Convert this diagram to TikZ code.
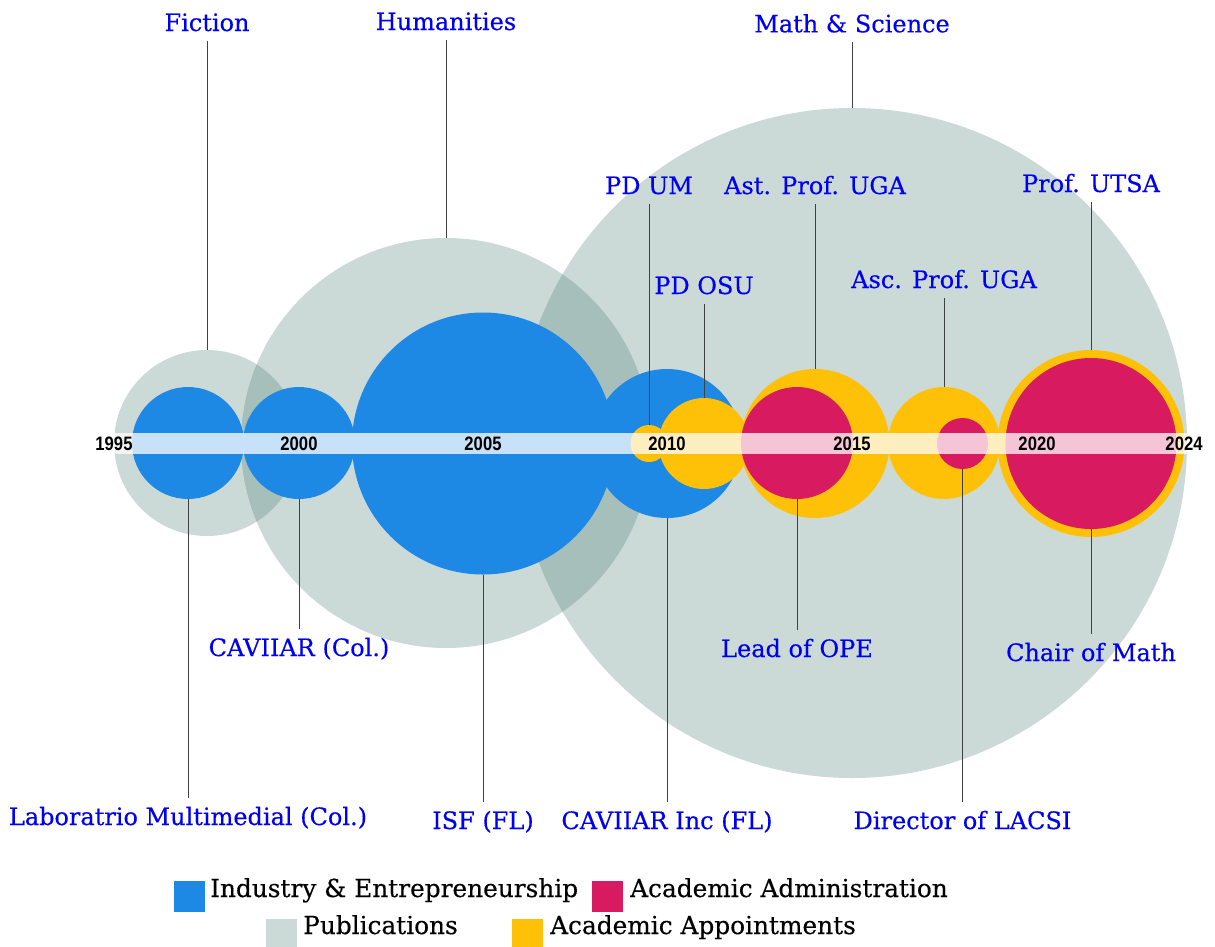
\documentclass[tikz,border=0pt]{standalone}
\usepackage{fontspec}
\setmainfont{DejaVu Serif}[FakeBold=0.35]
\newfontfamily\yearfont{Liberation Sans}
\definecolor{blueC}{HTML}{1E88E5}
\definecolor{redC}{HTML}{D81B60}
\definecolor{yellowC}{HTML}{FFC107}
\definecolor{greyC}{HTML}{CCDAD7}
\definecolor{greyO}{HTML}{A6BFBA}
\definecolor{labelC}{RGB}{0,0,240}
\newcommand{\yrtxt}[1]{\scalebox{0.9}[1.05]{#1}}
\begin{document}
\begin{tikzpicture}[x=1pt,y=-1pt,
  pub/.style={circle,inner sep=0pt,fill=greyC},
  ind/.style={circle,inner sep=0pt,fill=blueC},
  app/.style={circle,inner sep=0pt,fill=yellowC},
  adm/.style={circle,inner sep=0pt,fill=redC},
  lbl/.style={text=labelC,font=\fontsize{24}{28}\selectfont,inner xsep=0pt,inner ysep=9pt,anchor=base},
  yr/.style={font=\yearfont\bfseries\fontsize{18.5}{20}\selectfont,inner sep=0pt,anchor=base},
  conn/.style={draw=black!75,line width=1pt},
  legsq/.style={minimum size=31pt,inner sep=0pt},
  legtxt/.style={font=\fontsize{24.8}{28}\selectfont,inner sep=0pt,anchor=base west}]
\useasboundingbox (0,0) rectangle (1215,946);
% publications
\node[pub,minimum size=186pt] (fic) at (207,443) {};
\node[pub,minimum size=410pt] (hum) at (446,443) {};
\node[pub,minimum size=670pt] (msc) at (852,443) {};
\begin{scope}
  \clip (207,443) circle (93pt);
  \fill[greyO] (446,443) circle (205pt);
\end{scope}
\begin{scope}
  \clip (446,443) circle (205pt);
  \fill[greyO] (852,443) circle (335pt);
\end{scope}
% industry
\node[ind,minimum size=112pt] (lab) at (188,443) {};
\node[ind,minimum size=112pt] (cavcol) at (299,443) {};
\node[ind,minimum size=262pt] (isf) at (483,443.5) {};
\node[ind,minimum size=149pt] (cavinc) at (667,443.5) {};
% appointments and administration
\node[app,minimum size=37pt] (pdum) at (649,443.5) {};
\node[app,minimum size=91pt] (pdosu) at (704,443.5) {};
\node[app,minimum size=149pt] (ast) at (815,443.5) {};
\node[adm,minimum size=112pt] (ope) at (797,443) {};
\node[app,minimum size=112pt] (asc) at (944,443) {};
\node[adm,minimum size=51pt] (lacsi) at (962.5,443.5) {};
\node[app,minimum size=187pt] (utsa) at (1091,443.5) {};
\node[adm,minimum size=171pt] (chair) at (1091,443.5) {};
% timeline band
\fill[white,opacity=0.75] (95,433.3) rectangle (1200,453.8);
\node[yr] (y1995) at (114,450) {\yrtxt{1995}};
\node[yr] (y2000) at (299,450) {\yrtxt{2000}};
\node[yr] (y2005) at (483,450) {\yrtxt{2005}};
\node[yr] (y2010) at (667,450) {\yrtxt{2010}};
\node[yr] (y2015) at (852,450) {\yrtxt{2015}};
\node[yr] (y2020) at (1037,450) {\yrtxt{2020}};
\node[yr] (y2024) at (1184,450) {\yrtxt{2024}};
% top labels
\node[lbl] (ficL) at (207,31) {Fiction};
\node[lbl] (humL) at (446,30) {Humanities};
\node[lbl] (mscL) at (852,32.3) {Math \& Science};
\node[lbl] (pdumL) at (649,194) {PD UM};
\node[lbl] (astL) at (815,194) {Ast. Prof. UGA};
\node[lbl] (utsaL) at (1091,192) {Prof. UTSA};
\node[lbl] (pdosuL) at (704,294) {PD OSU};
\node[lbl] (ascL) at (944,288) {Asc. Prof. UGA};
% bottom labels
\node[lbl] (cavcolL) at (299,656) {CAVIIAR (Col.)};
\node[lbl] (opeL) at (797,657) {Lead of OPE};
\node[lbl] (chairL) at (1091,661) {Chair of Math};
\node[lbl] (labL) at (188,825) {Laboratrio Multimedial (Col.)};
\node[lbl] (isfL) at (483,829) {ISF (FL)};
\node[lbl] (cavincL) at (667,829) {CAVIIAR Inc (FL)};
\node[lbl] (lacsiL) at (962.5,829) {Director of LACSI};
% connectors
\draw[conn] (ficL.south) -- (fic.north);
\draw[conn] (humL.south) -- (hum.north);
\draw[conn] (mscL.south) -- (msc.north);
\draw[conn] (pdumL.south) -- (pdum.north);
\draw[conn] (astL.south) -- (ast.north);
\draw[conn] (utsaL.south) -- (utsa.north);
\draw[conn] (pdosuL.south) -- (pdosu.north);
\draw[conn] (ascL.south) -- (asc.north);
\draw[conn] (cavcol.south) -- (cavcolL.north);
\draw[conn] (ope.south) -- (opeL.north);
\draw[conn] (chair.south) -- (chairL.north);
\draw[conn] (lab.south) -- (labL.north);
\draw[conn] (isf.south) -- (isfL.north);
\draw[conn] (cavinc.south) -- (cavincL.north);
\draw[conn] (lacsi.south) -- (lacsiL.north);
% legend
\node[legsq,fill=blueC] (lgInd) at (189,896.5) {};
\node[legtxt] (lgIndT) at (210,897) {Industry \& Entrepreneurship};
\node[legsq,fill=redC] (lgAdm) at (607.5,896.5) {};
\node[legtxt] (lgAdmT) at (630,897) {Academic Administration};
\node[legsq,fill=greyC] (lgPub) at (281.5,934.5) {};
\node[legtxt] (lgPubT) at (303,934) {Publications};
\node[legsq,fill=yellowC] (lgApp) at (527.5,934.5) {};
\node[legtxt] (lgAppT) at (550,934) {Academic Appointments};
\end{tikzpicture}
\end{document}
